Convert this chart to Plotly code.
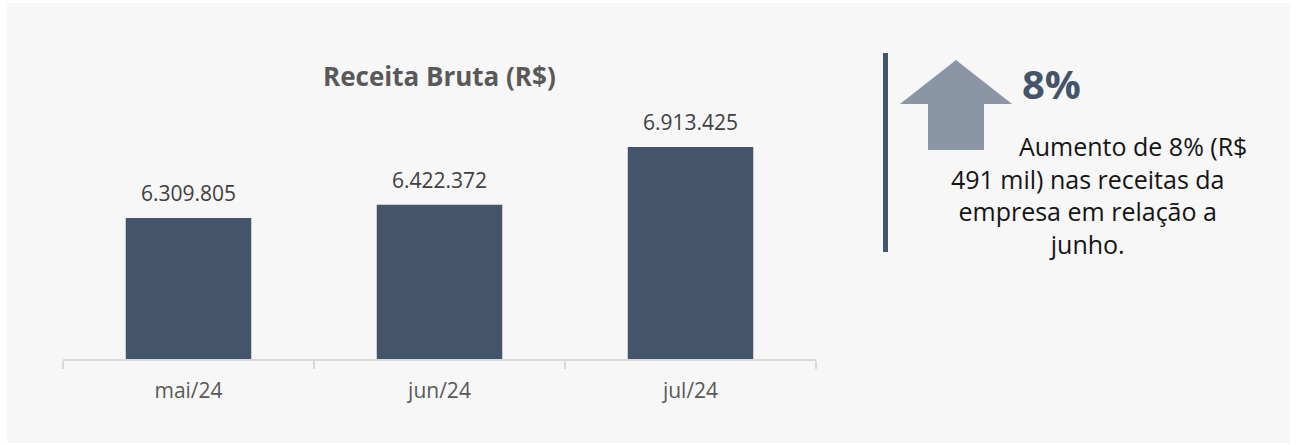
import plotly.graph_objects as go

categories = ["mai/24", "jun/24", "jul/24"]
receita = [6309805, 6422372, 6913425]
title_text = "Receita Bruta (R$)"
highlight = "8%"
desc_lines = ["Aumento de 8% (R$", "491 mil) nas receitas da", "empresa em relação a", "junho."]

W, H = 1297, 445
L, R, T, B = 63, 481, 90, 86
pw, ph = W - L - R, H - T - B

def px(x):
    return (x - L) / pw

def py(y):
    return (H - B - y) / ph

BAR = "#44546a"
FONT = "Open Sans, Segoe UI, sans-serif"

fig = go.Figure()
fig.add_trace(go.Bar(
    x=categories, y=receita, marker=dict(color=BAR, line=dict(width=0)),
    width=0.5, hoverinfo="skip",
))

anns = []
for c, v in zip(categories, receita):
    anns.append(dict(x=c, y=v, xref="x", yref="y", text=f"{v:,}".replace(",", "."),
                     showarrow=False, yshift=25, yanchor="middle",
                     font=dict(family=FONT, size=21, color="#404040")))

anns.append(dict(x=px(439), y=py(76), xref="paper", yref="paper", text=f"<b>{title_text}</b>",
                 showarrow=False, xanchor="center", yanchor="middle",
                 font=dict(family=FONT, size=26, color="#595959")))
anns.append(dict(x=px(1051), y=py(84), xref="paper", yref="paper", text=f"<b>{highlight}</b>",
                 showarrow=False, xanchor="center", yanchor="middle",
                 font=dict(family=FONT, size=40, color=BAR)))

desc = "<br>".join(["\u00a0" * 14 + desc_lines[0]] + desc_lines[1:])
anns.append(dict(x=px(1087), y=py(195), xref="paper", yref="paper", text=desc,
                 showarrow=False, xanchor="center", yanchor="middle", align="center",
                 font=dict(family=FONT, size=25, color="#141414")))

shapes = [
    dict(type="rect", xref="paper", yref="paper", x0=px(7), x1=px(1290), y0=py(443), y1=py(3),
         fillcolor="#f7f7f7", line=dict(width=0), layer="below"),
    dict(type="line", xref="paper", yref="paper", x0=px(885.5), x1=px(885.5), y0=py(252), y1=py(53),
         line=dict(color=BAR, width=5)),
    dict(type="path", xref="paper", yref="paper",
         path=" ".join([
             f"M {px(956)},{py(60)}",
             f"L {px(1012)},{py(104)}",
             f"L {px(984)},{py(104)}",
             f"L {px(984)},{py(150)}",
             f"L {px(928)},{py(150)}",
             f"L {px(928)},{py(104)}",
             f"L {px(900)},{py(104)}",
             "Z"]),
         fillcolor="#8a96a5", line=dict(width=0)),
]

ymin = 5110000
span = ph / 1.176e-4
fig.update_layout(
    width=W, height=H,
    margin=dict(l=L, r=R, t=T, b=B, pad=0),
    paper_bgcolor="white", plot_bgcolor="rgba(0,0,0,0)",
    showlegend=False,
    separators=",.",
    annotations=anns, shapes=shapes,
    bargap=0.5,
    xaxis=dict(showline=True, linecolor="#d9d9d9", linewidth=2, ticks="outside",
               tickson="boundaries", ticklen=8, tickcolor="#d9d9d9", tickwidth=2,
               showgrid=False, tickfont=dict(family=FONT, size=21, color="#595959"),
               ticklabelstandoff=12, fixedrange=True),
    yaxis=dict(range=[ymin, ymin + span], visible=False, showgrid=False, zeroline=False, fixedrange=True),
)

fig.write_html("out.html", config=dict(displayModeBar=False),
               post_script="document.body.style.margin='0';")
